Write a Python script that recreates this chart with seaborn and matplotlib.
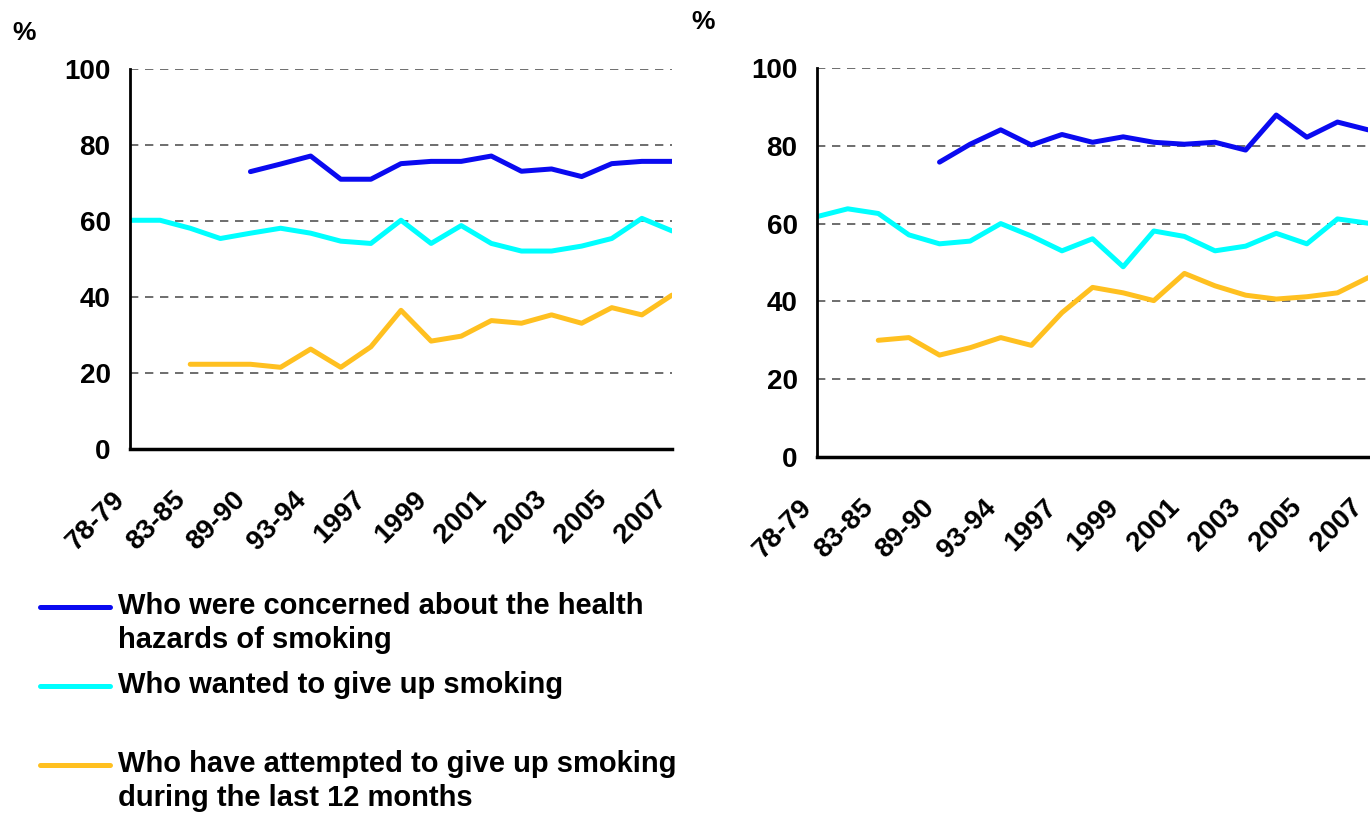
import numpy as np
import pandas as pd
import matplotlib
matplotlib.use("Agg")
import matplotlib.pyplot as plt
import matplotlib.transforms as mtransforms
from matplotlib.lines import Line2D
import seaborn as sns

# survey periods (only every other one is labelled on the axis)
periods = ["78-79", "80-82", "83-85", "86-88", "89-90", "91-92", "93-94", "95-96",
           "1997", "1998", "1999", "2000", "2001", "2002", "2003", "2004",
           "2005", "2006", "2007"]

# left panel
left_concerned = [np.nan, np.nan, np.nan, np.nan, 73.0, 75.0, 77.1, 71.0, 71.0, 75.1,
                  75.7, 75.7, 77.1, 73.1, 73.7, 71.7, 75.1, 75.7, 75.7]
left_wanted = [60.2, 60.2, 58.1, 55.4, 56.8, 58.1, 56.8, 54.7, 54.1, 60.2,
               54.1, 58.8, 54.1, 52.1, 52.1, 53.4, 55.4, 60.7, 57.4]
left_attempted = [np.nan, np.nan, 22.3, 22.3, 22.3, 21.5, 26.3, 21.5, 26.9, 36.5,
                  28.4, 29.7, 33.8, 33.1, 35.3, 33.1, 37.2, 35.3, 40.5]

# right panel
right_concerned = [np.nan, np.nan, np.nan, np.nan, 75.8, 80.4, 84.1, 80.2, 82.9, 80.9,
                   82.3, 80.9, 80.4, 80.9, 78.9, 87.9, 82.2, 86.1, 84.1]
right_wanted = [61.8, 63.8, 62.6, 57.1, 54.8, 55.5, 60.0, 56.8, 53.0, 56.1,
                48.9, 58.1, 56.7, 53.0, 54.2, 57.5, 54.8, 61.2, 60.1]
right_attempted = [np.nan, np.nan, 30.0, 30.7, 26.2, 28.1, 30.7, 28.7, 37.1, 43.6,
                   42.2, 40.2, 47.2, 44.0, 41.6, 40.6, 41.2, 42.2, 46.1]

series_labels = ["Who were concerned about the health\nhazards of smoking",
                 "Who wanted to give up smoking",
                 "Who have attempted to give up smoking\nduring the last 12 months"]
colors = ["#0A0AF0", "#00FFFF", "#FFC020"]

sns.set_style("white")
plt.rcParams['font.family'] = ['Liberation Sans', 'DejaVu Sans']
plt.rcParams['font.weight'] = 'bold'
plt.rcParams['text.color'] = 'black'
plt.rcParams['xtick.color'] = 'black'
plt.rcParams['ytick.color'] = 'black'

fig = plt.figure(figsize=(13.7, 8.18), dpi=100)
ax1 = fig.add_axes([0.0949, 0.4511, 0.3956, 0.4645])
ax2 = fig.add_axes([0.5964, 0.4413, 0.4022, 0.4756])

x = np.arange(len(periods))

def draw_panel(ax, panel):
    for vals, col in zip(panel, colors):
        sns.lineplot(x=x, y=vals, color=col, linewidth=3.6, ax=ax)
    ax.set_xlim(0, len(periods) - 1)
    ax.set_ylim(0, 100)
    ax.set_yticks([0, 20, 40, 60, 80, 100])
    ax.set_yticklabels([0, 20, 40, 60, 80, 100], fontsize=20, fontweight='bold')
    ax.set_xticks(x)
    ax.set_xticklabels([p if i % 2 == 0 else "" for i, p in enumerate(periods)],
                       rotation=45, ha='right', rotation_mode='anchor',
                       fontsize=20, fontweight='bold')
    ax.tick_params(axis='x', direction='in', length=7, width=1.5, pad=27)
    ax.tick_params(axis='y', length=0, pad=14)
    shift = mtransforms.ScaledTranslation(-18 / 100, 0, fig.dpi_scale_trans)
    for lbl in ax.get_xticklabels():
        lbl.set_transform(lbl.get_transform() + shift)
    for v in [20, 40, 60, 80, 100]:
        ax.axhline(v, color='#555555', linestyle=(0, (5, 4)), linewidth=1.2, zorder=0)
    for s in ['top', 'right']:
        ax.spines[s].set_visible(False)
    ax.spines['left'].set_linewidth(2)
    ax.spines['bottom'].set_linewidth(2.5)
    ax.spines['left'].set_color('black')
    ax.spines['bottom'].set_color('black')
    ax.set_xlabel("")
    ax.set_ylabel("")

draw_panel(ax1, [left_concerned, left_wanted, left_attempted])
draw_panel(ax2, [right_concerned, right_wanted, right_attempted])

fig.text(0.009, 0.960, "%", fontsize=19, fontweight='bold', va='center')
fig.text(0.505, 0.973, "%", fontsize=19, fontweight='bold', va='center')

# legend drawn by hand under the left panel
first_line_y = [607, 686, 765]
for lab, col, yp in zip(series_labels, colors, first_line_y):
    yf = 1 - yp / 818
    fig.add_artist(Line2D([40 / 1370, 110 / 1370], [yf, yf], color=col,
                          linewidth=3.6, solid_capstyle='round'))
    fig.text(118 / 1370, yf + 15 / 818, lab, fontsize=21, fontweight='bold',
             va='top', ha='left', linespacing=1.28)

fig.savefig("out.png", dpi=100)
